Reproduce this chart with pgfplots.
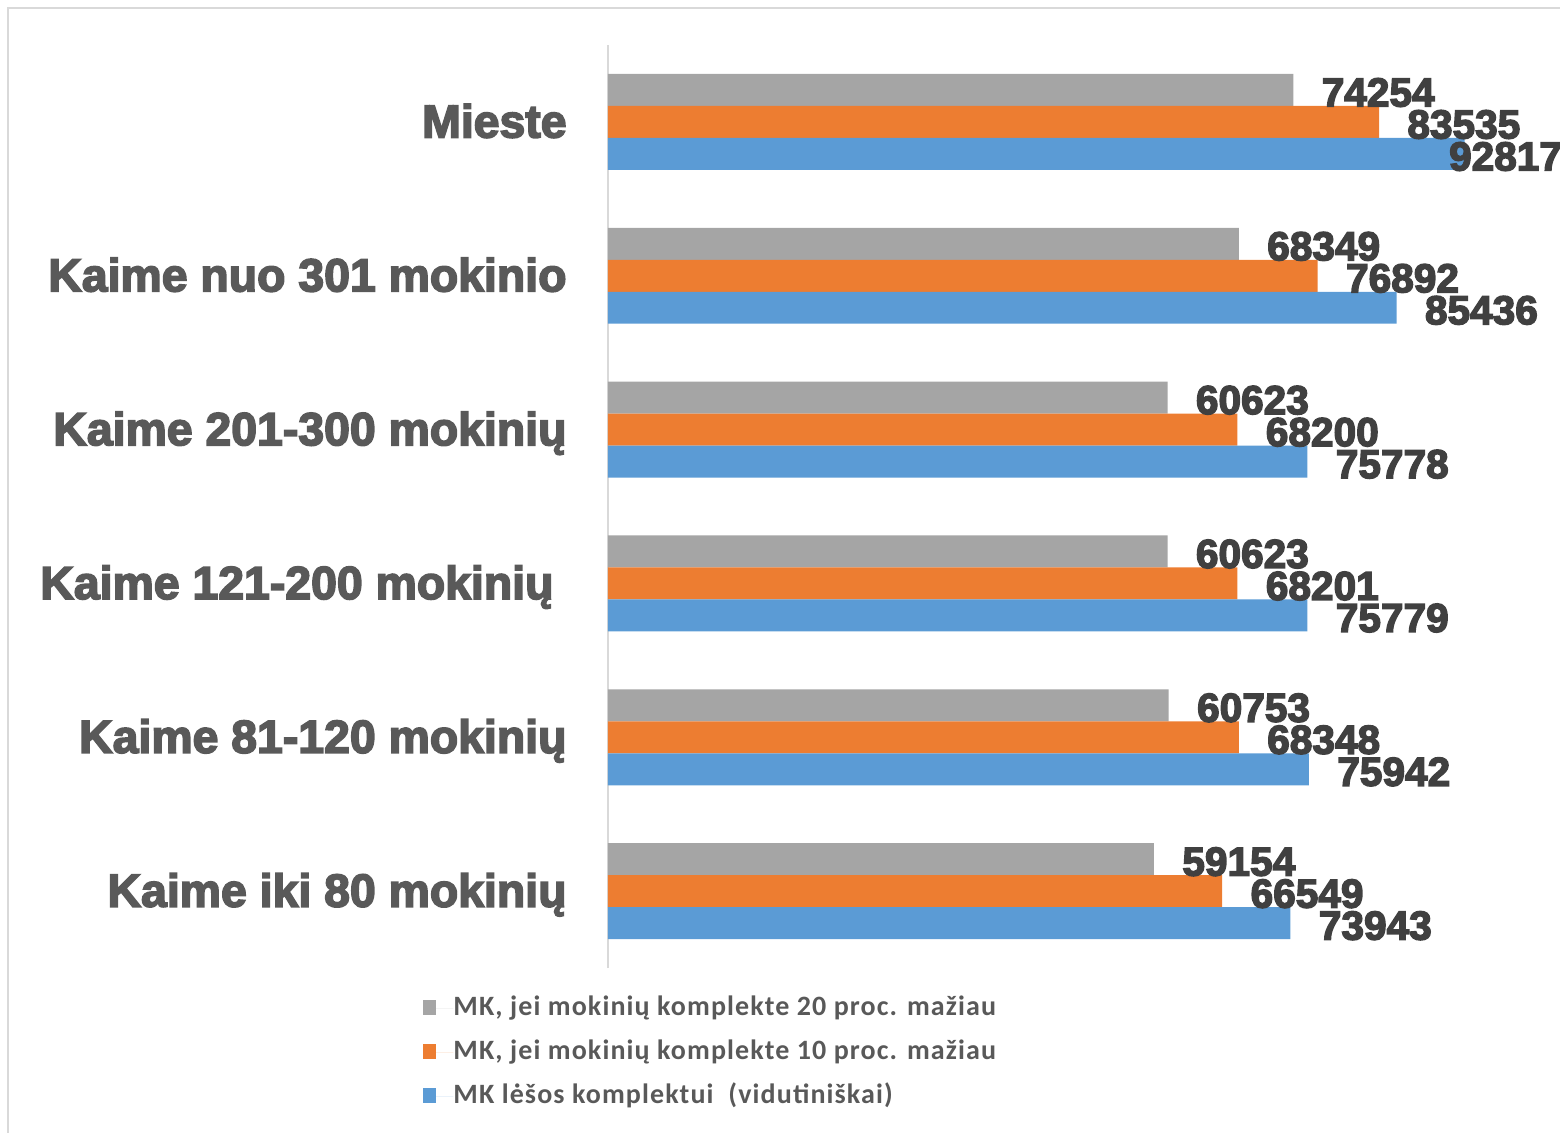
\documentclass[border=0pt]{standalone}
\usepackage{pgfplots}
\pgfplotsset{compat=1.18}
\usepackage{pgfplotstable}
\usepackage{fontspec}
\setmainfont{Liberation Sans}
\newfontfamily\heavy[FakeBold=3.5]{Liberation Sans Bold}
\newfontfamily\leg[LetterSpace=4]{Carlito}
\definecolor{cgray}{HTML}{A5A5A5}
\definecolor{corange}{HTML}{ED7D31}
\definecolor{cblue}{HTML}{5B9BD5}
\definecolor{ctext}{HTML}{595959}
\definecolor{clab}{HTML}{404040}
\definecolor{cframe}{HTML}{D9D9D9}

\pgfplotstableread{
y val
5 74254
4 68349
3 60623
2 60623
1 60753
0 59154
}\tgray
\pgfplotstableread{
y val
5 83535
4 76892
3 68200
2 68201
1 68348
0 66549
}\torange
\pgfplotstableread{
y val sh
5 92817 -22
4 85436 0
3 75778 0
2 75779 0
1 75942 0
0 73943 0
}\tblue

\pgfplotsset{myleg/.style={legend image code/.code={%
  \path[##1,draw=none] (0pt,-3pt) rectangle (6.5pt,4.5pt);
  \path (0pt,0pt) -- (15pt,0pt);}}}

\begin{document}
\begin{tikzpicture}
\path[use as bounding box] (-304pt,-82pt) rectangle (476pt,484pt);
\draw[cframe, line width=1pt] (-300pt,-100pt) -- (-300pt,479.75pt) -- (500pt,479.75pt);
\begin{axis}[
  at={(0pt,0pt)}, anchor=south west,
  scale only axis, width=461.5pt, height=461.5pt,
  xmin=0, xmax=100000, ymin=-0.5, ymax=5.5,
  axis x line=none, axis y line*=left,
  y axis line style={draw=cframe, line width=1pt, -},
  ytick={0,...,5},
  yticklabels={Kaime iki 80 mokinių, Kaime 81-120 mokinių, Kaime 121-200 mokinių\kern6.5pt, Kaime 201-300 mokinių, Kaime nuo 301 mokinio, Mieste},
  major tick length=0pt, ytick style={draw=none},
  yticklabel style={font=\heavy\fontsize{23.2}{27}\selectfont, text=ctext, anchor=base east, inner sep=0pt, xshift=-20.5pt, yshift=-7.8pt},
  xbar, bar width=0.208,
  clip=false,
  point meta=explicit symbolic,
  nodes near coords,
  every node near coord/.append style={font=\heavy\fontsize{20.3}{24}\selectfont, text=clab, inner sep=0pt, anchor=west, xshift=14pt, yshift=-1.3pt},
  legend style={at={(rel axis cs:-0.2004,-0.0298)}, anchor=north west, draw=none, fill=none, inner sep=0pt, row sep=9pt,
    font=\leg\bfseries\fontsize{14}{16}\selectfont, text=ctext,
    nodes={inner sep=0pt, text height=10pt, text depth=3pt}},
  legend cell align=left,
]
\addplot[fill=cgray, draw=none, bar shift=0.208, myleg] table[x=val,y=y,meta=val]{\tgray};
\addplot[fill=corange, draw=none, bar shift=0, myleg] table[x=val,y=y,meta=val]{\torange};
\addplot[fill=cblue, draw=none, bar shift=-0.208, myleg,
  visualization depends on={\thisrow{sh} \as \lsh},
  every node near coord/.append style={xshift=\lsh pt}] table[x=val,y=y,meta=val]{\tblue};
\legend{{MK, jei mokinių komplekte 20 proc. mažiau}, {MK, jei mokinių komplekte 10 proc. mažiau}, {MK lėšos komplektui\ \ (vidutiniškai)}}
\end{axis}
\end{tikzpicture}
\end{document}
